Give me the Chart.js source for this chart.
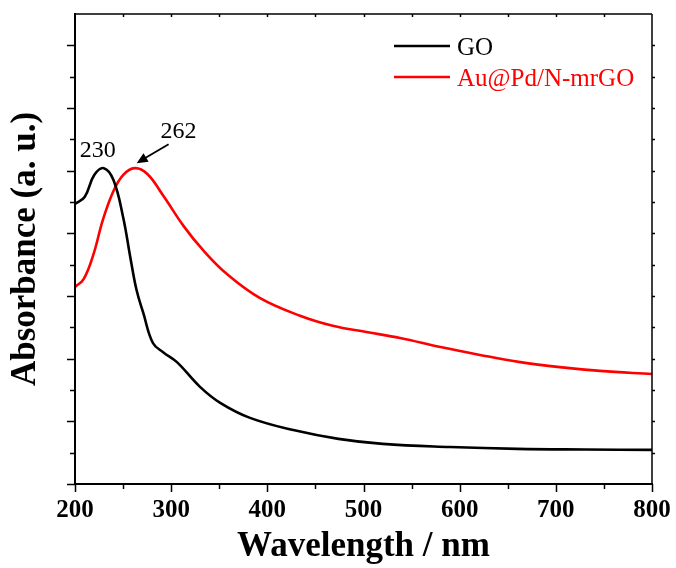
<!DOCTYPE html>
<html>
<head>
<meta charset="utf-8">
<script src="https://cdn.jsdelivr.net/npm/chart.js@4/dist/chart.umd.min.js"></script>
<style>
  html, body { margin: 0; padding: 0; background: #fff; }
  #wrap { width: 676px; height: 568px; position: relative; }
</style>
</head>
<body>
<div id="wrap"><canvas id="c" width="676" height="568"></canvas></div>
<script>
// ---- data ----
const seriesNames = ['GO', 'Au@Pd/N-mrGO'];
const goWavelength = [200, 210, 220, 230, 240, 250, 258, 264, 271, 281, 292, 306, 330, 351, 382, 427, 474, 520, 590, 660, 730, 800];
const goAbsorbance = [8.94, 9.16, 9.86, 10.08, 9.70, 8.52, 7.15, 6.19, 5.46, 4.50, 4.20, 3.89, 3.10, 2.59, 2.11, 1.72, 1.44, 1.28, 1.18, 1.12, 1.10, 1.09];
const auWavelength = [200, 209, 219, 229, 240, 250, 262, 275, 292, 313, 333, 358, 392, 434, 468, 503, 538, 580, 621, 663, 704, 746, 800];
const auAbsorbance = [6.29, 6.54, 7.31, 8.43, 9.35, 9.86, 10.08, 9.90, 9.19, 8.23, 7.47, 6.70, 5.94, 5.37, 5.05, 4.85, 4.66, 4.37, 4.12, 3.89, 3.73, 3.61, 3.51];
const xTicks = [200, 300, 400, 500, 600, 700, 800];
const peakLabels = [230, 262];
const peakValues = [10.08, 10.08];

const SERIF = '"Liberation Serif", "Times New Roman", serif';
const colors = ['#000000', '#ff0000'];

function pts(xs, ys) { return xs.map((x, i) => ({ x: x, y: ys[i] })); }

const framePlugin = {
  id: 'frame',
  afterDraw(chart) {
    const ctx = chart.ctx;
    const xs = chart.scales.x, ys = chart.scales.y;
    const a = chart.chartArea;
    ctx.save();
    ctx.strokeStyle = '#000';
    // frame
    ctx.lineWidth = 1.5;
    ctx.beginPath();
    ctx.moveTo(a.left, a.top); ctx.lineTo(a.right, a.top);
    ctx.moveTo(a.right, a.top); ctx.lineTo(a.right, a.bottom);
    ctx.stroke();
    ctx.lineWidth = 2;
    ctx.beginPath();
    ctx.moveTo(a.left, a.top - 1); ctx.lineTo(a.left, a.bottom + 1);
    ctx.moveTo(a.left - 1, a.bottom); ctx.lineTo(a.right + 1, a.bottom);
    ctx.stroke();
    // y ticks (left outward, right small)
    ctx.lineWidth = 1.5;
    ctx.beginPath();
    for (let v = ys.min; v <= ys.max; v += 1) {
      const y = Math.round(ys.getPixelForValue(v)) + 0.5;
      if (v < ys.max) {
        const len = (v % 2 === 0) ? 8 : 5;
        ctx.moveTo(a.left - len, y); ctx.lineTo(a.left, y);
      }
      if (v > ys.min && v < ys.max) {
        ctx.moveTo(a.right, y); ctx.lineTo(a.right + 3, y);
      }
    }
    // x ticks (bottom outward, top inward)
    for (let w = xs.min; w <= xs.max; w += 50) {
      const x = Math.round(xs.getPixelForValue(w)) + 0.5;
      const len = (w % 100 === 0) ? 8 : 5;
      ctx.moveTo(x, a.bottom); ctx.lineTo(x, a.bottom + len);
      if (w > xs.min && w < xs.max) {
        ctx.moveTo(x, a.top); ctx.lineTo(x, a.top + 3);
      }
    }
    ctx.stroke();

    // legend
    const ds = chart.data.datasets;
    ctx.font = '25px ' + SERIF;
    ctx.textBaseline = 'alphabetic';
    ctx.textAlign = 'left';
    ds.forEach((d, i) => {
      const y = a.top + 32 + i * 31;
      ctx.strokeStyle = d.borderColor;
      ctx.lineWidth = 2.5;
      ctx.beginPath();
      ctx.moveTo(a.left + 319, y); ctx.lineTo(a.left + 375, y);
      ctx.stroke();
      ctx.fillStyle = d.borderColor;
      ctx.fillText(d.label, a.left + 382, y + 9);
    });

    // peak annotations
    ctx.fillStyle = '#000';
    ctx.strokeStyle = '#000';
    ctx.font = '24px ' + SERIF;
    ctx.textAlign = 'center';
    const p0x = xs.getPixelForValue(peakLabels[0]);
    const p0y = ys.getPixelForValue(peakValues[0]);
    ctx.fillText(String(peakLabels[0]), p0x - 6, p0y - 11);
    const p1x = xs.getPixelForValue(peakLabels[1]);
    const p1y = ys.getPixelForValue(peakValues[1]);
    ctx.fillText(String(peakLabels[1]), p1x + 44, p1y - 30);
    // arrow
    const ax0 = p1x + 34, ay0 = p1y - 24, ax1 = p1x + 2, ay1 = p1y - 5;
    const ang = Math.atan2(ay1 - ay0, ax1 - ax0);
    ctx.lineWidth = 1.8;
    ctx.beginPath();
    ctx.moveTo(ax0, ay0);
    ctx.lineTo(ax1 - 8 * Math.cos(ang), ay1 - 8 * Math.sin(ang));
    ctx.stroke();
    ctx.beginPath();
    ctx.moveTo(ax1, ay1);
    ctx.lineTo(ax1 - 11 * Math.cos(ang) + 5 * Math.sin(ang), ay1 - 11 * Math.sin(ang) - 5 * Math.cos(ang));
    ctx.lineTo(ax1 - 11 * Math.cos(ang) - 5 * Math.sin(ang), ay1 - 11 * Math.sin(ang) + 5 * Math.cos(ang));
    ctx.closePath();
    ctx.fill();
    ctx.restore();
  }
};

new Chart(document.getElementById('c'), {
  type: 'line',
  data: {
    datasets: [
      { label: seriesNames[0], data: pts(goWavelength, goAbsorbance), borderColor: colors[0], backgroundColor: colors[0],
        borderWidth: 2.6, pointRadius: 0, tension: 0.4, fill: false },
      { label: seriesNames[1], data: pts(auWavelength, auAbsorbance), borderColor: colors[1], backgroundColor: colors[1],
        borderWidth: 2.6, pointRadius: 0, tension: 0.4, fill: false }
    ]
  },
  options: {
    responsive: false,
    animation: false,
    devicePixelRatio: 1,
    layout: { padding: { top: 14, right: 24, left: 0, bottom: 0 } },
    plugins: { legend: { display: false }, tooltip: { enabled: false } },
    scales: {
      x: {
        type: 'linear', min: 200, max: 800,
        afterBuildTicks(s) { s.ticks = xTicks.map(v => ({ value: v })); },
        afterFit(s) { s.height = 84; s.paddingLeft = 0; s.paddingRight = 0; },
        grid: { display: false, drawTicks: false },
        border: { display: false },
        ticks: { padding: 12, color: '#000', font: { family: SERIF, size: 25, weight: 'bold' }, maxRotation: 0 },
        title: { display: true, text: 'Wavelength / nm', color: '#000', padding: { top: 0, bottom: 0 },
          font: { family: SERIF, size: 35, weight: 'bold' } }
      },
      y: {
        type: 'linear', min: 0, max: 15,
        afterFit(s) { s.width = 75; s.paddingTop = 0; s.paddingBottom = 0; },
        grid: { display: false, drawTicks: false },
        border: { display: false },
        ticks: { display: false, stepSize: 1 },
        title: { display: true, text: 'Absorbance (a. u.)', color: '#000', padding: { top: 5, bottom: 0 },
          font: { family: SERIF, size: 35, weight: 'bold' } }
      }
    }
  },
  plugins: [framePlugin]
});
</script>
</body>
</html>
